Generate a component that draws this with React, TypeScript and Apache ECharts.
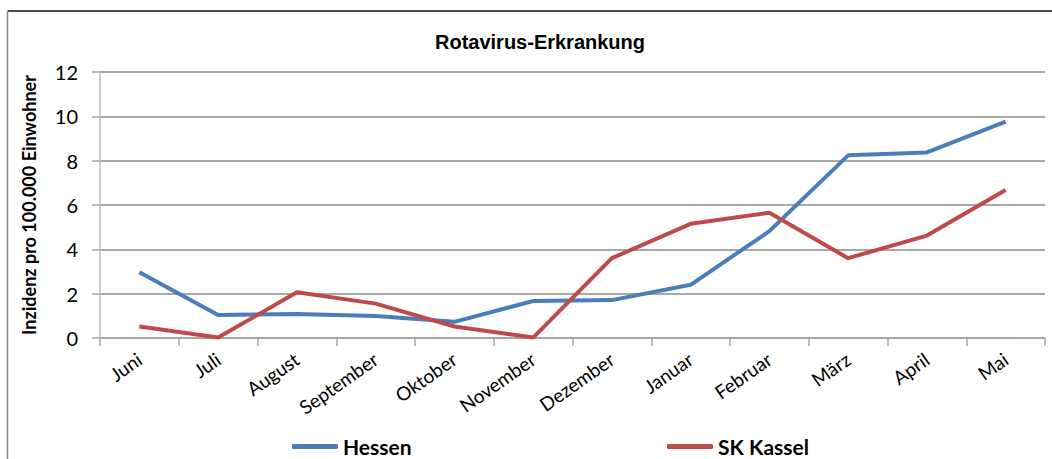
import React, { useEffect, useRef } from "react";
import * as echarts from "echarts";

const months = ["Juni", "Juli", "August", "September", "Oktober", "November", "Dezember", "Januar", "Februar", "März", "April", "Mai"];
const hessen = [2.97, 1.04, 1.08, 0.99, 0.73, 1.67, 1.71, 2.4, 4.82, 8.24, 8.37, 9.76];
const kassel = [0.52, 0.02, 2.06, 1.55, 0.52, 0.02, 3.6, 5.15, 5.65, 3.6, 4.62, 6.68];
const yTicks = { min: 0, max: 12, interval: 2 };

const FONT = "Lato";

export default function App() {
  const ref = useRef<HTMLDivElement>(null);
  useEffect(() => {
    document.body.style.margin = "0";
    document.body.style.overflow = "hidden";
    const chart = echarts.init(ref.current!, null, { renderer: "svg" });
    const legendText = { fontFamily: FONT, fontWeight: "bold", fontSize: 21, color: "#000" };
    chart.setOption({
      animation: false,
      backgroundColor: "#ffffff",
      textStyle: { fontFamily: FONT },
      title: {
        text: "Rotavirus-Erkrankung",
        left: 535,
        top: 27,
        textAlign: "center",
        textStyle: { fontFamily: "Liberation Sans", fontWeight: "bold", fontSize: 20, color: "#000" },
      },
      graphic: [
        { type: "line", shape: { x1: 7.5, y1: 11, x2: 1052, y2: 11 }, style: { stroke: "#4d4d4d", lineWidth: 2 } },
        { type: "line", shape: { x1: 7.5, y1: 11, x2: 7.5, y2: 459 }, style: { stroke: "#8a8a8a", lineWidth: 1.5 } },
      ],
      legend: [
        {
          left: 292,
          top: 436,
          padding: 0,
          itemWidth: 46,
          itemHeight: 5,
          itemGap: 0,
          icon: "roundRect",
          textStyle: legendText,
          data: ["Hessen"],
        },
        {
          left: 667,
          top: 436,
          padding: 0,
          itemWidth: 46,
          itemHeight: 5,
          itemGap: 0,
          icon: "roundRect",
          textStyle: legendText,
          data: ["SK Kassel"],
        },
      ],
      grid: { left: 100, right: 7, top: 72, bottom: 121, containLabel: false },
      xAxis: {
        type: "category",
        data: months,
        boundaryGap: true,
        axisLine: { lineStyle: { color: "#a6a6a6", width: 1.5 } },
        axisTick: { show: true, length: 8, alignWithLabel: false, lineStyle: { color: "#a6a6a6", width: 1.5 } },
        axisLabel: { rotate: 35, fontSize: 19, color: "#000", fontFamily: FONT, margin: 19, interval: 0 },
      },
      yAxis: {
        type: "value",
        min: yTicks.min,
        max: yTicks.max,
        interval: yTicks.interval,
        name: "Inzidenz pro 100.000 Einwohner",
        nameLocation: "middle",
        nameGap: 62,
        nameTextStyle: { fontFamily: FONT, fontWeight: "bold", fontSize: 18, color: "#000" },
        axisLine: { show: true, lineStyle: { color: "#bfbfbf", width: 1.5 } },
        axisTick: { show: true, length: 8, lineStyle: { color: "#a6a6a6", width: 1.5 } },
        axisLabel: { fontSize: 20, color: "#000", fontFamily: FONT, margin: 22 },
        splitLine: { show: true, lineStyle: { color: "#8c8c8c", width: 1.5 } },
      },
      series: [
        {
          name: "Hessen",
          type: "line",
          data: hessen,
          symbol: "none",
          color: "#4a7ebb",
          lineStyle: { width: 4, color: "#4a7ebb" },
        },
        {
          name: "SK Kassel",
          type: "line",
          data: kassel,
          symbol: "none",
          color: "#be4b48",
          lineStyle: { width: 4, color: "#be4b48" },
        },
      ],
    });
    return () => chart.dispose();
  }, []);
  return <div ref={ref} style={{ width: 1052, height: 459 }} />;
}
